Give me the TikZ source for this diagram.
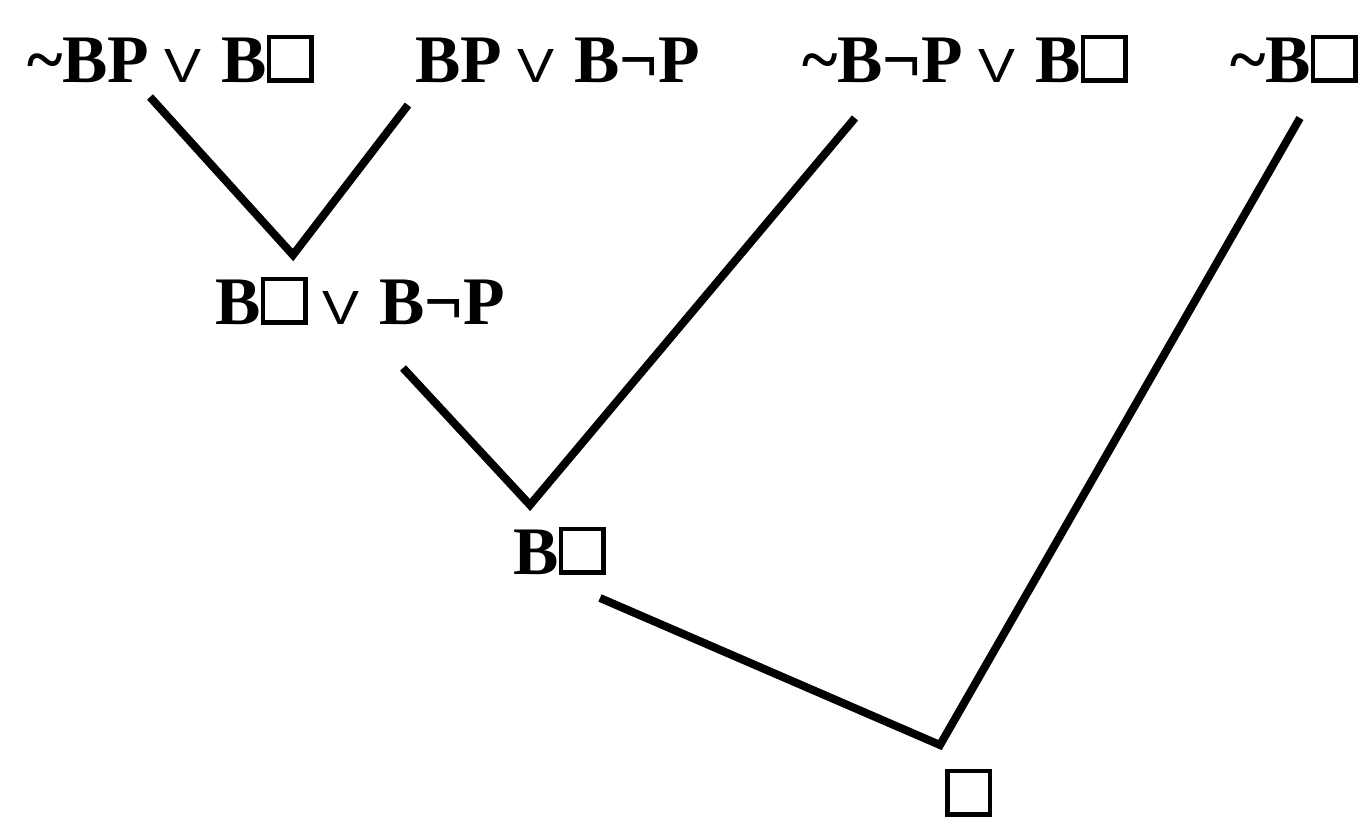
\documentclass[tikz,border=0pt]{standalone}
\usepackage{fontspec}
\usepackage{graphicx}
\setmainfont{Liberation Serif}
\newfontfamily\orfont{Liberation Sans}
% empty square drawn with rules, sitting on the baseline
\newcommand\sq{\raisebox{4.5pt}{\setlength\fboxsep{0pt}\setlength\fboxrule{4.5pt}\fbox{\rule{0pt}{39pt}\rule{38pt}{0pt}}}}
% disjunction sign with its surrounding spaces
\newcommand\orv{\hspace{15pt}\resizebox{37pt}{33pt}{\orfont\mdseries\fontsize{46}{46}\selectfont V}\hspace{20pt}}
\newcommand\negsign{¬}
\begin{document}
\begin{tikzpicture}[x=1pt,y=1pt,
  formula/.style={anchor=base west,inner sep=0pt,font=\bfseries\fontsize{68}{72}\selectfont},
  edge/.style={line width=8pt}]
\useasboundingbox (0,0) rectangle (1365,818);
% clauses
\node[formula] (c1) at (27,735) {\textasciitilde BP\orv B\sq};
\node[formula] (c2) at (415,735) {BP\orv B\negsign P};
\node[formula] (c3) at (802,735) {\textasciitilde B\negsign P\orv B\sq};
\node[formula] (c4) at (1230,735) {\textasciitilde B\sq};
\node[formula] (r1) at (215,493) {B\sq\orv B\negsign P};
\node[formula] (r2) at (513,243) {B\sq};
\node[formula] (r3) at (945,1) {\sq};
% connector ends
\coordinate (c1e) at (150,721);
\coordinate (c2e) at (408,713);
\coordinate (v1) at (293,563);
\coordinate (r1e) at (403,450);
\coordinate (c3e) at (855,700);
\coordinate (v2) at (530,313);
\coordinate (r2e) at (600,220);
\coordinate (c4e) at (1300,700);
\coordinate (v3) at (940,73);
% resolution steps
\draw[edge] (c1e) -- (v1) -- (c2e);
\draw[edge] (r1e) -- (v2) -- (c3e);
\draw[edge] (r2e) -- (v3) -- (c4e);
\end{tikzpicture}
\end{document}
